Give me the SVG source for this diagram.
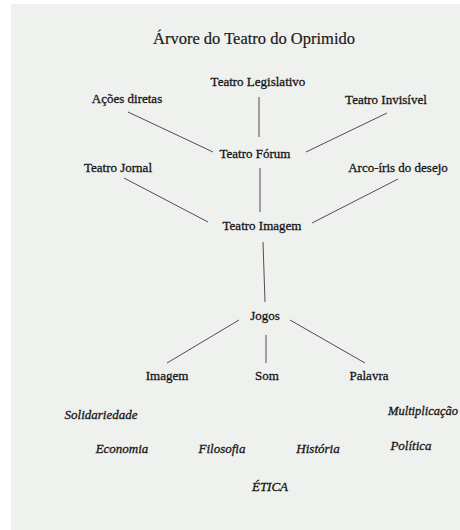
<svg xmlns="http://www.w3.org/2000/svg" width="460" height="530" viewBox="0 0 460 530">
<style>
.n{font-family:"Liberation Serif","DejaVu Serif",serif;font-size:13px;fill:#161616;stroke:#161616;stroke-width:0.3;text-anchor:middle}
.i{font-family:"Liberation Serif","DejaVu Serif",serif;font-size:13px;font-style:italic;fill:#161616;stroke:#161616;stroke-width:0.3;text-anchor:middle}
.t{font-family:"Liberation Serif","DejaVu Serif",serif;font-size:16.5px;fill:#1a1a1a;stroke:#1a1a1a;stroke-width:0.2;text-anchor:middle}
.c line{stroke:#4e4e4e;stroke-width:1}
</style>
<rect x="0" y="0" width="460" height="530" fill="#ffffff"/>
<rect x="11" y="4" width="449" height="526" fill="#eff1ee"/>
<g id="title"><text class="t" x="254" y="44">Árvore do Teatro do Oprimido</text></g>
<g id="connectors" class="c">
<line x1="128" y1="112" x2="213" y2="152"/>
<line x1="259" y1="97" x2="259" y2="137"/>
<line x1="387" y1="113" x2="306" y2="152"/>
<line x1="124" y1="178" x2="208" y2="222"/>
<line x1="260" y1="168" x2="260" y2="212"/>
<line x1="398" y1="179" x2="312" y2="223"/>
<line x1="263" y1="242" x2="265" y2="302"/>
<line x1="239" y1="320" x2="167" y2="363"/>
<line x1="266" y1="335" x2="266" y2="363"/>
<line x1="290" y1="320" x2="365" y2="363"/>
</g>
<g id="teatro-legislativo"><text class="n" x="258" y="86">Teatro Legislativo</text></g>
<g id="acoes-diretas"><text class="n" x="127" y="103">Ações diretas</text></g>
<g id="teatro-invisivel"><text class="n" x="386" y="104">Teatro Invisível</text></g>
<g id="teatro-forum"><text class="n" x="255" y="158">Teatro Fórum</text></g>
<g id="teatro-jornal"><text class="n" x="118" y="172">Teatro Jornal</text></g>
<g id="arco-iris"><text class="n" x="398" y="172">Arco-íris do desejo</text></g>
<g id="teatro-imagem"><text class="n" x="262" y="230">Teatro Imagem</text></g>
<g id="jogos"><text class="n" x="265" y="320">Jogos</text></g>
<g id="imagem"><text class="n" x="167" y="380">Imagem</text></g>
<g id="som"><text class="n" x="267" y="380">Som</text></g>
<g id="palavra"><text class="n" x="369" y="380">Palavra</text></g>
<g id="solidariedade"><text class="i" x="101" y="419">Solidariedade</text></g>
<g id="multiplicacao"><text class="i" x="388" y="415" style="text-anchor:start;font-size:12.5px">Multiplicação</text></g>
<g id="economia"><text class="i" x="122" y="453">Economia</text></g>
<g id="filosofia"><text class="i" x="222" y="453">Filosofia</text></g>
<g id="historia"><text class="i" x="318" y="453">História</text></g>
<g id="politica"><text class="i" x="411" y="450">Política</text></g>
<g id="etica"><text class="i" x="270" y="491">ÉTICA</text></g>
</svg>
